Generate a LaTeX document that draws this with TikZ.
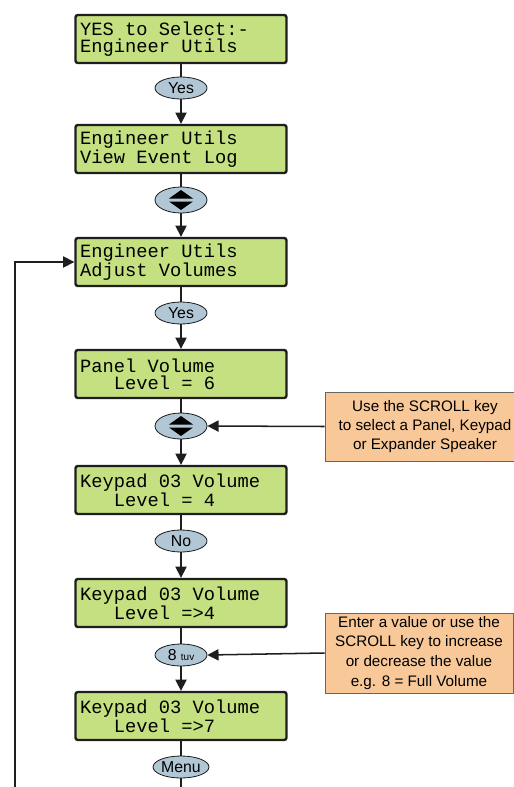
\documentclass[tikz,border=0pt]{standalone}
\usepackage{fontspec}
\setmainfont{Liberation Sans}
\newfontfamily\lcdfont{Liberation Mono}
\usetikzlibrary{shapes.geometric, arrows.meta, calc}
\definecolor{lcdgreen}{RGB}{196, 224, 128}
\definecolor{keyblue}{RGB}{178, 199, 214}
\definecolor{noteorange}{RGB}{248, 200, 152}
\definecolor{inkdark}{RGB}{30, 30, 30}

\begin{document}
\begin{tikzpicture}[
  x=0.03cm, y=-0.03cm,
  lcd/.style={draw=inkdark, line width=2pt, rounded corners=2pt, fill=lcdgreen, minimum width=6.33cm, minimum height=1.44cm, text width=6.05cm, inner xsep=0.14cm, align=left, font=\lcdfont\fontsize{16}{14.5}\selectfont, execute at begin node={\spaceskip=0.6em\relax}},
  keyell/.style={ellipse, draw=inkdark, line width=0.7pt, fill=keyblue, minimum width=1.56cm, minimum height=0.66cm, inner sep=0pt, font=\fontsize{13.5}{14}\selectfont},
  note/.style={draw=gray!80!black, line width=0.6pt, fill=noteorange, align=center, inner sep=0pt, font=\fontsize{13}{16.5}\selectfont},
  link/.style={inkdark, line width=1.3pt},
  flow/.style={link, -{Triangle[length=9.5pt, width=9.5pt]}}
]
  \useasboundingbox (0,0) rectangle (514,787);

  % display screens
  \node[lcd] (selEng) at (181,39) {YES to Select:-\\Engineer Utils};
  \node[lcd] (evLog) at (181,149) {Engineer Utils\\View Event Log};
  \node[lcd] (adjVol) at (181,262) {Engineer Utils\\Adjust Volumes};
  \node[lcd] (panVol) at (181,374) {Panel Volume\\\ \ \ Level = 6};
  \node[lcd] (kpVol) at (181,490) {Keypad 03 Volume\\\ \ \ Level = 4};
  \node[lcd] (kpEdit) at (181,603) {Keypad 03 Volume\\\ \ \ Level =>4};
  \node[lcd] (kpFull) at (181,716) {Keypad 03 Volume\\\ \ \ Level =>7};

  % keys
  \node[keyell] (yesA) at (181,88) {Yes};
  \node[keyell, minimum height=0.78cm] (scrollA) at (181,200) {};
  \node[keyell] (yesB) at (181,313) {Yes};
  \node[keyell, minimum height=0.78cm] (scrollB) at (181,426) {};
  \node[keyell] (noKey) at (181,541) {No};
  \node[keyell] (eightKey) at (181,655) {8 {\fontsize{8.5}{9}\selectfont tuv}};
  \node[keyell] (menuKey) at (181,767) {Menu};

  \foreach \k in {scrollA, scrollB} {
    \fill[black] ($(\k)+(-12,-1.5)$) -- ++(24,0) -- ++(-12,-8.5) -- cycle;
    \fill[black] ($(\k)+(-12,1.5)$) -- ++(24,0) -- ++(-12,8.5) -- cycle;
  }

  % notes
  \node[note, minimum width=6.0cm, minimum height=2.07cm] (noteScroll) at (425,426.5)
    {Use the SCROLL key\\to select a Panel, Keypad\\or Expander Speaker};
  \node[note, minimum width=5.64cm, minimum height=2.4cm, font=\fontsize{13}{17}\selectfont] (noteValue) at (419,653)
    {Enter a value or use the\\SCROLL key to increase\\or decrease the value\\e.g. 8 = Full Volume};

  % connectors
  \draw[link] (selEng) -- (yesA);
  \draw[flow] (yesA) -- (evLog);
  \draw[link] (evLog) -- (scrollA);
  \draw[flow] (scrollA) -- (adjVol);
  \draw[link] (adjVol) -- (yesB);
  \draw[flow] (yesB) -- (panVol);
  \draw[link] (panVol) -- (scrollB);
  \draw[flow] (scrollB) -- (kpVol);
  \draw[link] (kpVol) -- (noKey);
  \draw[flow] (noKey) -- (kpEdit);
  \draw[link] (kpEdit) -- (eightKey);
  \draw[flow] (eightKey) -- (kpFull);
  \draw[link] (kpFull) -- (menuKey);

  \coordinate (menuOut) at (181,787);
  \coordinate (loopIn) at (15,787);
  \draw[link] (menuKey) -- (menuOut);
  \draw[flow] (loopIn) |- (adjVol.west);

  \draw[flow] (noteScroll.west) -- (scrollB.east);
  \draw[flow] (noteValue.west) -- (eightKey.east);
\end{tikzpicture}
\end{document}
